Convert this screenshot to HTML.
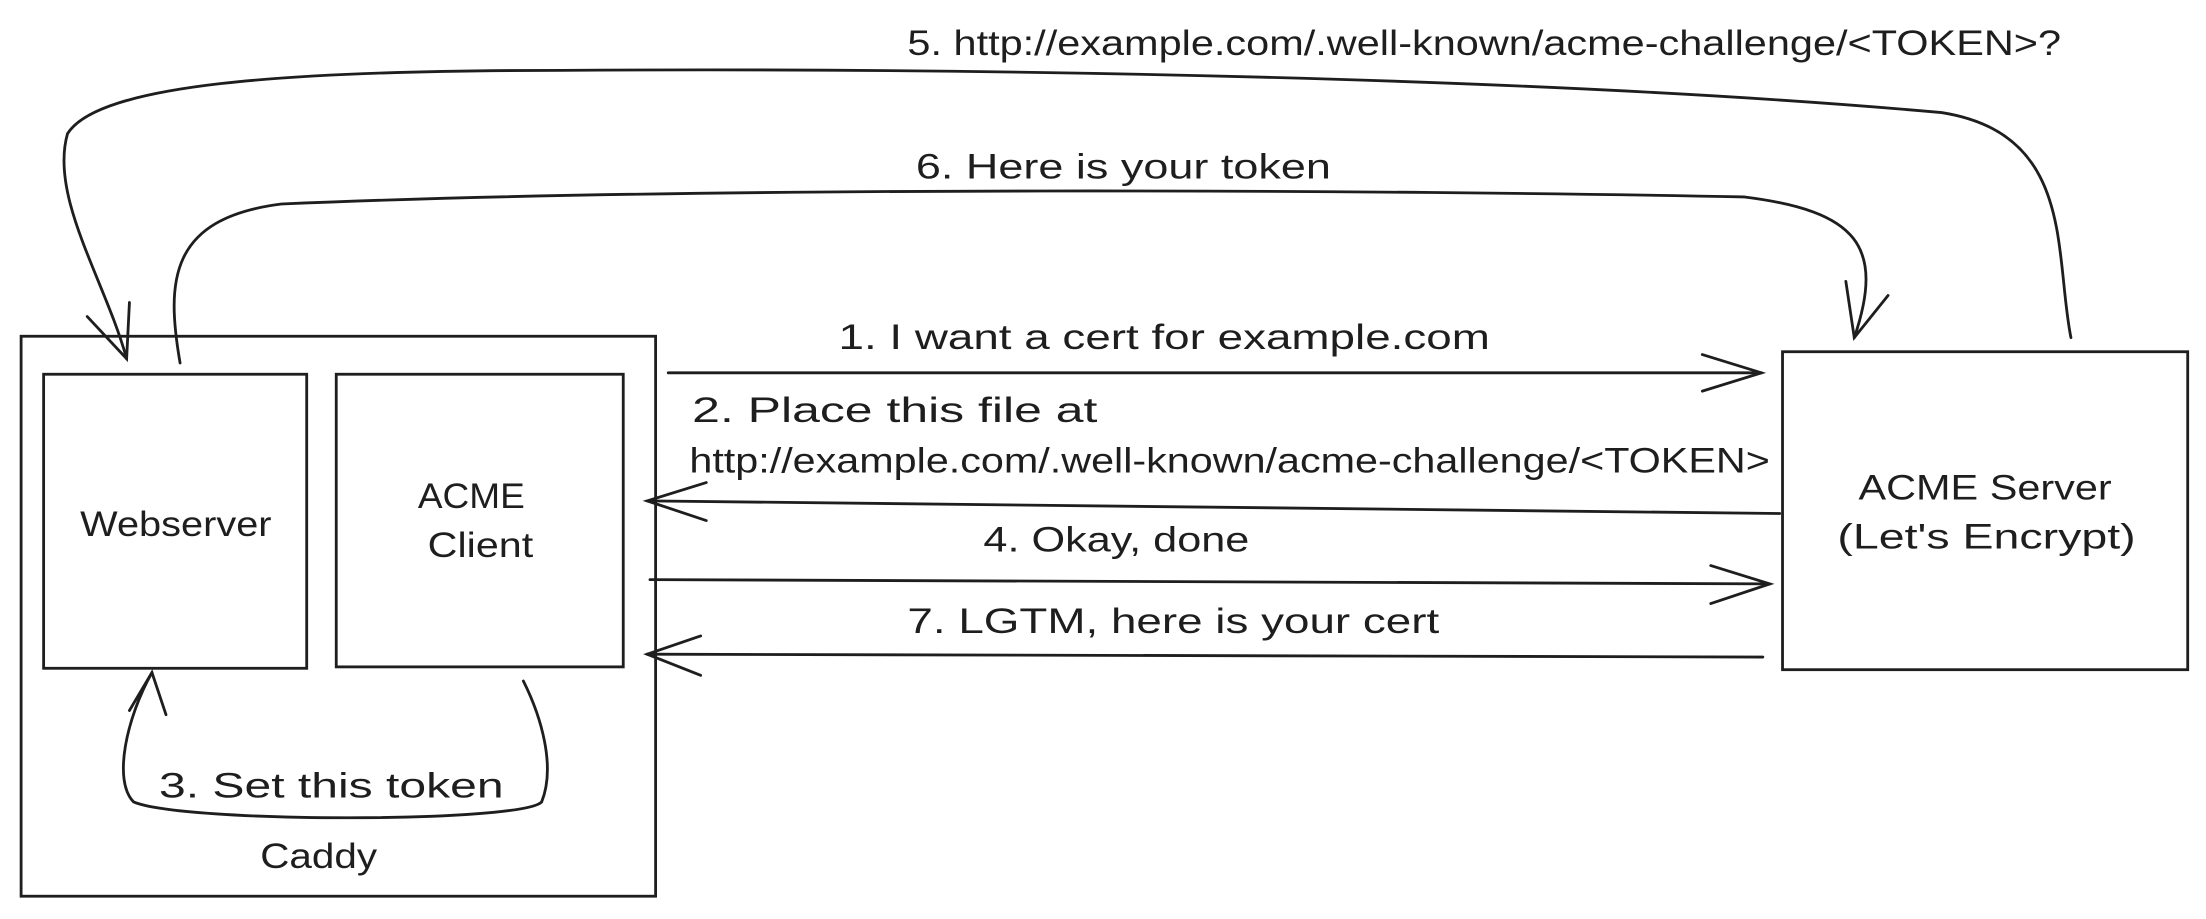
<!DOCTYPE html>
<html><head><meta charset="utf-8"><style>
html,body{margin:0;padding:0;background:#fff;width:2206px;height:919px;overflow:hidden}
svg{display:block}
text{font-family:"Liberation Sans",sans-serif;font-size:25px;fill:#1e1e1e}
</style></head><body>
<svg width="2206" height="919" viewBox="0 0 1568 653.2" preserveAspectRatio="none">
<g fill="none" stroke="#1e1e1e" stroke-width="2" stroke-linecap="round">
<rect x="15" y="239" width="451" height="398"/>
<rect x="31" y="266" width="187" height="209"/>
<rect x="239" y="266" width="204" height="208"/>
<rect x="1267" y="250" width="288" height="226"/>
<path d="M475 265 L1252 265"/><path d="M1210 252 L1252 265 L1210 278"/>
<path d="M1265 365 L460 356"/><path d="M502 343 L460 356 L502 370"/>
<path d="M462 412 L1258 415"/><path d="M1216 402 L1258 415 L1216 429"/>
<path d="M1253 467 L460 465"/><path d="M498 452 L460 465 L498 480"/>
<path d="M372 484 C385 510 395 545 385 570 C370 585 130 585 95 570 C80 555 90 510 108 478"/>
<path d="M92 505 L108 478 L118 508"/>
<path d="M1472 240 C1460 180 1475 95 1380 80 C1100 55 700 48 400 50 C200 50 70 60 48 95 C35 140 75 200 90 255"/>
<path d="M62 225 L90 255 L92 215"/>
<path d="M128 258 C118 200 120 155 200 145 C500 132 1000 135 1240 140 C1320 150 1340 175 1318 240"/>
<path d="M1312 200 L1318 240 L1342 210"/>
</g>
<text x="57" y="381" textLength="136" lengthAdjust="spacingAndGlyphs">Webserver</text>
<text x="297" y="361" textLength="76" lengthAdjust="spacingAndGlyphs">ACME</text>
<text x="304" y="396" textLength="75" lengthAdjust="spacingAndGlyphs">Client</text>
<text x="1321" y="355" textLength="180" lengthAdjust="spacingAndGlyphs">ACME Server</text>
<text x="1306" y="390" textLength="212" lengthAdjust="spacingAndGlyphs">(Let's Encrypt)</text>
<text x="596" y="248" textLength="463" lengthAdjust="spacingAndGlyphs">1. I want a cert for example.com</text>
<text x="492" y="300" textLength="288" lengthAdjust="spacingAndGlyphs">2. Place this file at</text>
<text x="490" y="336" textLength="768" lengthAdjust="spacingAndGlyphs">http://example.com/.well-known/acme-challenge/&lt;TOKEN&gt;</text>
<text x="699" y="392" textLength="189" lengthAdjust="spacingAndGlyphs">4. Okay, done</text>
<text x="645" y="450" textLength="378" lengthAdjust="spacingAndGlyphs">7. LGTM, here is your cert</text>
<text x="113" y="567" textLength="245" lengthAdjust="spacingAndGlyphs">3. Set this token</text>
<text x="185" y="617" textLength="83" lengthAdjust="spacingAndGlyphs">Caddy</text>
<text x="645" y="39" textLength="820" lengthAdjust="spacingAndGlyphs">5. http://example.com/.well-known/acme-challenge/&lt;TOKEN&gt;?</text>
<text x="651" y="127" textLength="295" lengthAdjust="spacingAndGlyphs">6. Here is your token</text>
</svg>
</body></html>
